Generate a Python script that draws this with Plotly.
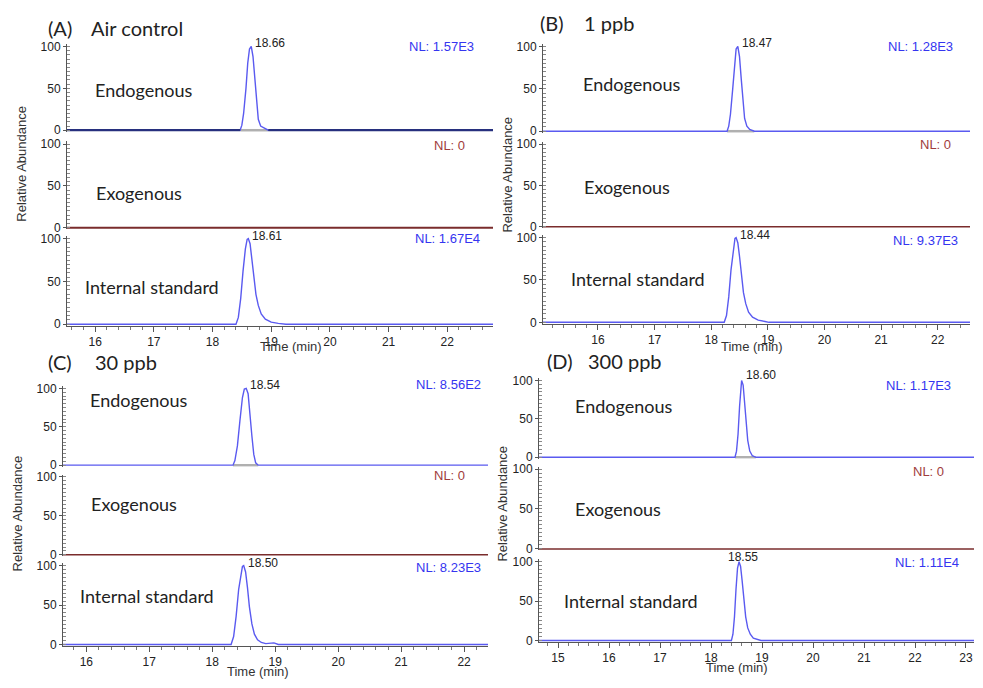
import plotly.graph_objects as go

# The page body adds an 8px margin, so the figure is drawn 8px in from the
# window's top-left corner; positions below are window pixels.
WIN_W, WIN_H = 983, 688
OFF = 8
W, H = WIN_W - 2 * OFF, WIN_H - 2 * OFF

# ---------------- data ----------------
panel_tags = ["(A)", "(B)", "(C)", "(D)"]
panel_titles = ["Air control", "1 ppb", "30 ppb", "300 ppb"]
row_names = ["Endogenous", "Exogenous", "Internal standard"]
nl_text = [
    ["NL: 1.57E3", "NL: 0", "NL: 1.67E4"],
    ["NL: 1.28E3", "NL: 0", "NL: 9.37E3"],
    ["NL: 8.56E2", "NL: 0", "NL: 8.23E3"],
    ["NL: 1.17E3", "NL: 0", "NL: 1.11E4"],
]
time_ranges = [[15.52, 22.78], [15.03, 22.57], [15.63, 22.38], [14.627, 23.157]]
time_ticks = [
    [16, 17, 18, 19, 20, 21, 22],
    [16, 17, 18, 19, 20, 21, 22],
    [16, 17, 18, 19, 20, 21, 22],
    [15, 16, 17, 18, 19, 20, 21, 22, 23],
]
y_ticks = [0, 50, 100]

# peak retention-time labels (min)
apex_endo = [18.66, 18.47, 18.54, 18.60]
apex_is = [18.61, 18.44, 18.50, 18.55]

# chromatogram peaks: time (min) and relative abundance (%)
a_endo_time = [18.47, 18.50, 18.53, 18.57, 18.60, 18.63, 18.66, 18.69, 18.72, 18.75, 18.78, 18.82, 18.88, 18.95]
a_endo_abund = [0, 6, 20, 50, 80, 97, 100, 88, 62, 33, 13, 5, 3, 0]
a_is_time = [18.40, 18.44, 18.48, 18.52, 18.56, 18.59, 18.61, 18.64, 18.67, 18.70, 18.74, 18.78, 18.83, 18.90, 19.00, 19.12, 19.25]
a_is_abund = [0, 8, 30, 62, 88, 99, 100, 94, 78, 56, 35, 22, 12, 6, 2.5, 1, 0]

b_endo_time = [18.28, 18.31, 18.34, 18.38, 18.41, 18.44, 18.47, 18.50, 18.53, 18.56, 18.59, 18.63, 18.68, 18.76]
b_endo_abund = [0, 6, 20, 50, 80, 97, 100, 88, 62, 33, 15, 6, 2, 0]
b_is_time = [18.23, 18.27, 18.31, 18.35, 18.39, 18.42, 18.44, 18.47, 18.50, 18.53, 18.57, 18.61, 18.66, 18.73, 18.83, 18.95, 19.02]
b_is_abund = [0, 8, 30, 62, 88, 99, 100, 94, 78, 56, 35, 22, 12, 6, 2.5, 1, 0]

c_endo_time = [18.33, 18.36, 18.40, 18.44, 18.48, 18.51, 18.54, 18.57, 18.60, 18.63, 18.66, 18.69, 18.73]
c_endo_abund = [0, 6, 25, 58, 88, 99, 100, 93, 70, 38, 14, 3, 0]
c_is_time = [18.30, 18.34, 18.38, 18.42, 18.46, 18.48, 18.50, 18.53, 18.56, 18.59, 18.63, 18.67, 18.72, 18.78, 18.85, 18.92, 18.98, 19.05]
c_is_abund = [0, 10, 36, 70, 94, 99, 100, 92, 72, 48, 26, 13, 6, 2.5, 1, 2, 2, 0]

d_endo_time = [18.47, 18.50, 18.53, 18.56, 18.58, 18.60, 18.63, 18.66, 18.69, 18.72, 18.76, 18.81, 18.88]
d_endo_abund = [0, 8, 30, 66, 90, 100, 94, 72, 45, 22, 8, 2, 0]
d_is_time = [18.40, 18.43, 18.46, 18.49, 18.52, 18.55, 18.58, 18.61, 18.64, 18.68, 18.72, 18.77, 18.83, 18.91, 18.98]
d_is_abund = [0, 8, 30, 65, 92, 100, 94, 76, 52, 30, 16, 8, 3, 1, 0]

endo_peaks = [(a_endo_time, a_endo_abund), (b_endo_time, b_endo_abund),
              (c_endo_time, c_endo_abund), (d_endo_time, d_endo_abund)]
is_peaks = [(a_is_time, a_is_abund), (b_is_time, b_is_abund),
            (c_is_time, c_is_abund), (d_is_time, d_is_abund)]

# ---------------- layout geometry (window pixels) ----------------
panel_px = [
    dict(xl=67, xr=493, rows=[(43, 128), (142, 227), (238, 325)]),
    dict(xl=543, xr=970, rows=[(43, 129), (142, 226), (237, 323)]),
    dict(xl=63, xr=488, rows=[(390, 468), (480, 559), (570, 650)]),
    dict(xl=539, xr=974, rows=[(382, 460), (472, 553), (566, 646)]),
]
tag_px = [(46, 24), (538, 19), (46, 363), (545, 362)]
title_px = [(89, 24), (582, 19), (93, 363), (586, 362)]
label_px = [
    [(93, 87), (94, 192), (83, 287)],
    [(581, 81), (582, 186), (569, 279)],
    [(88, 402), (89, 507), (78, 601)],
    [(573, 408), (573, 512), (562, 606)],
]
nl_px = [
    [(476, 43), (467, 144), (482, 238)],
    [(955, 43), (953, 143), (960, 240)],
    [(483, 386), (467, 478), (483, 572)],
    [(953, 387), (946, 474), (961, 567)],
]
ytitle_px = [(22, 162), (508, 173), (17, 517), (503, 507)]
xtitle_px = [(291, 348), (752, 348), (258, 677), (737, 673)]

YMIN, YMAX = -2, 103

BLUE = "#5a5af0"
NAVY = "#27307e"
BROWN = "#7a2c2c"
NL_BLUE = "#3535f0"
NL_RED = "#a03c3c"
AXC = "#555555"
ARIAL = "Liberation Sans, Arial, sans-serif"
CAL = "Lato, Open Sans, sans-serif"


def fx(px):
    return (px - OFF) / W


def fy(py):
    return 1 - (py - OFF) / H


fig = go.Figure()
layout = {}
annotations = []

for p in range(4):
    geo = panel_px[p]
    t0, t1 = time_ranges[p]
    for r in range(3):
        idx = p * 3 + r + 1
        xa = "x" if idx == 1 else f"x{idx}"
        ya = "y" if idx == 1 else f"y{idx}"
        xkey = "xaxis" if idx == 1 else f"xaxis{idx}"
        ykey = "yaxis" if idx == 1 else f"yaxis{idx}"
        y100, y0 = geo["rows"][r]
        ppu = (y0 - y100) / 100.0
        bot = y0 - YMIN * ppu
        top = y100 - (YMAX - 100) * ppu
        is_bottom = r == 2
        xaxis = dict(
            domain=[fx(geo["xl"]), fx(geo["xr"])], range=[t0, t1], anchor=ya,
            showgrid=False, zeroline=False,
        )
        if is_bottom:
            xaxis.update(
                showline=True, linecolor=AXC, linewidth=1, ticks="outside", ticklen=5,
                tickcolor=AXC, tickvals=time_ticks[p],
                tickfont=dict(family=ARIAL, size=12, color="#222"),
                minor=dict(ticks="outside", dtick=0.2, ticklen=3, tickcolor="#777"),
            )
        else:
            xaxis.update(visible=False)
        layout[xkey] = xaxis
        layout[ykey] = dict(
            domain=[fy(bot), fy(top)], range=[YMIN, YMAX], anchor=xa,
            showgrid=False, zeroline=False, showline=True, linecolor=AXC, linewidth=1,
            ticks="outside", ticklen=3, tickcolor=AXC, tickvals=y_ticks,
            tickfont=dict(family=ARIAL, size=12, color="#222"),
            minor=dict(ticks="inside", dtick=5, ticklen=3, tickcolor="#888"),
        )

        if r == 1:
            fig.add_trace(go.Scatter(x=[t0, t1], y=[0, 0], mode="lines",
                                     line=dict(color=BROWN, width=2 if p == 0 else 1.5),
                                     xaxis=xa, yaxis=ya, hoverinfo="skip"))
        else:
            pt, pa = endo_peaks[p] if r == 0 else is_peaks[p]
            if r == 0:
                fig.add_trace(go.Scatter(x=[pt[0], pt[-1]], y=[0, 0], mode="lines",
                                         line=dict(color="#b0b0b0", width=2.5),
                                         xaxis=xa, yaxis=ya, hoverinfo="skip"))
            fig.add_trace(go.Scatter(x=[t0] + list(pt) + [t1], y=[0] + list(pa) + [0],
                                     mode="lines", line=dict(color=BLUE, width=1.4),
                                     xaxis=xa, yaxis=ya, hoverinfo="skip"))
            if r == 0 and p == 0:
                fig.add_trace(go.Scatter(x=[t0, pt[0], None, pt[-1], t1], y=[0, 0, None, 0, 0],
                                         mode="lines", line=dict(color=NAVY, width=2.2),
                                         xaxis=xa, yaxis=ya, hoverinfo="skip"))
            apex = apex_endo[p] if r == 0 else apex_is[p]
            centered = (p == 3 and r == 2)
            annotations.append(dict(
                x=apex, y=100, xref=xa, yref=ya, text=f"{apex:.2f}", showarrow=False,
                xanchor="center" if centered else "left", yanchor="middle",
                xshift=4 if centered else 2, yshift=5 if (p == 3) else 3,
                font=dict(family=ARIAL, size=12, color="#222")))

        # row label
        lx, ly = label_px[p][r]
        annotations.append(dict(x=fx(lx), y=fy(ly), xref="paper", yref="paper",
                                text=row_names[r], showarrow=False, xanchor="left", yanchor="middle",
                                font=dict(family=CAL, size=18, color="#222")))
        nx, ny = nl_px[p][r]
        annotations.append(dict(x=fx(nx), y=fy(ny), xref="paper", yref="paper",
                                text=nl_text[p][r], showarrow=False, xanchor="right", yanchor="middle",
                                font=dict(family=ARIAL, size=13, color=NL_RED if r == 1 else NL_BLUE)))

    tx, ty = tag_px[p]
    annotations.append(dict(x=fx(tx), y=fy(ty), xref="paper", yref="paper", text=panel_tags[p],
                            showarrow=False, xanchor="left", yanchor="middle",
                            font=dict(family=CAL, size=20, color="#222")))
    tx, ty = title_px[p]
    annotations.append(dict(x=fx(tx), y=fy(ty), xref="paper", yref="paper", text=panel_titles[p],
                            showarrow=False, xanchor="left", yanchor="middle",
                            font=dict(family=CAL, size=20, color="#222")))
    ax_, ay_ = ytitle_px[p]
    annotations.append(dict(x=fx(ax_), y=fy(ay_), xref="paper", yref="paper", text="Relative Abundance",
                            showarrow=False, textangle=-90, xanchor="center", yanchor="middle",
                            font=dict(family=ARIAL, size=13, color="#333")))
    bx, by = xtitle_px[p]
    annotations.append(dict(x=fx(bx), y=fy(by), xref="paper", yref="paper", text="Time (min)",
                            showarrow=False, xanchor="center", yanchor="middle",
                            font=dict(family=ARIAL, size=13, color="#333")))

fig.update_layout(
    width=W, height=H, margin=dict(l=0, r=0, t=0, b=0),
    paper_bgcolor="white", plot_bgcolor="white", showlegend=False,
    annotations=annotations, **layout,
)

fig.write_html("out.html")
